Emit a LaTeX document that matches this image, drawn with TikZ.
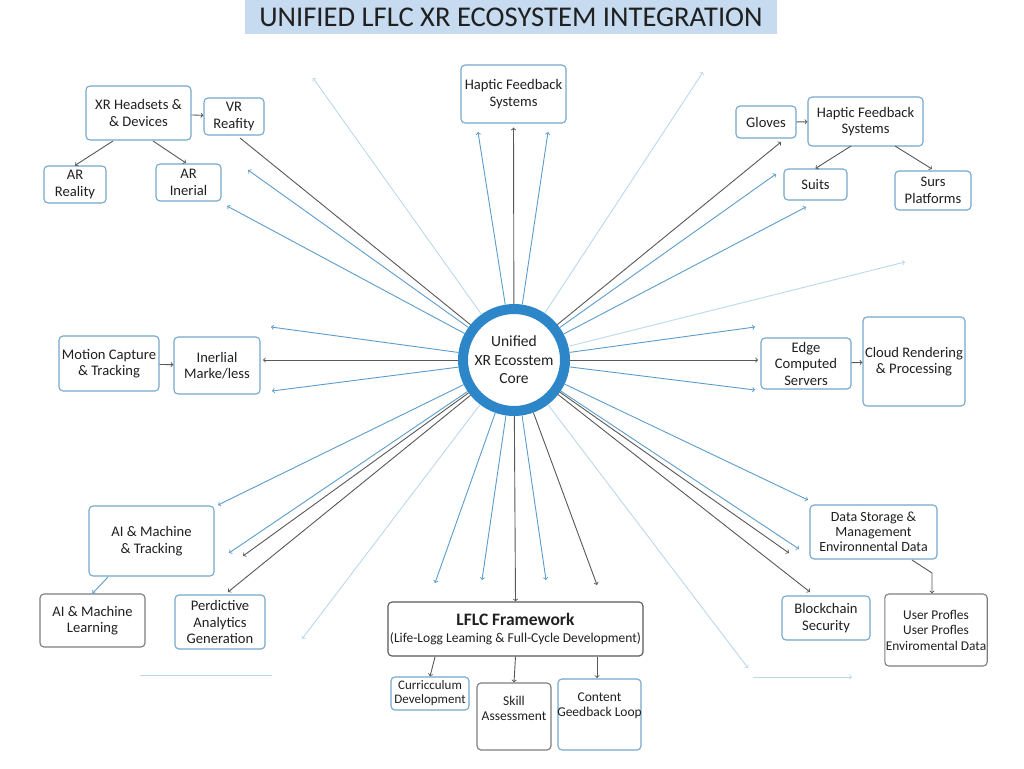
\documentclass[tikz,border=0pt]{standalone}
\usepackage{fontspec}
\setmainfont{Carlito}
\usepackage{tikz}
\definecolor{boxblue}{RGB}{116,168,204}
\definecolor{boxgray}{RGB}{125,125,125}
\definecolor{coreblue}{RGB}{44,134,200}
\definecolor{rayblue}{RGB}{92,156,204}
\definecolor{raygray}{RGB}{88,88,88}
\definecolor{rayfaint}{RGB}{188,216,236}
\definecolor{titlefill}{RGB}{198,219,239}
\definecolor{ink}{RGB}{32,32,32}

\begin{document}
\begin{tikzpicture}[
      x=1pt, y=-1pt,
      box/.style={draw=#1, rounded corners=4pt, fill=white, align=center, line width=1.1pt,
                  text=ink, inner sep=2pt, font=\fontsize{14.6}{16.5}\selectfont},
      box/.default=boxblue,
      ray/.style={->, line width=0.9pt, draw=#1},
      link/.style={->, line width=0.9pt, draw=raygray}
    ]
      \useasboundingbox[fill=white] (0,0) rectangle (1024,768);

      % title
      \node[fill=titlefill, minimum width=532pt, minimum height=34pt, text=ink,
            font=\fontsize{28.6}{30}\selectfont] (title) at (511,17) {UNIFIED LFLC XR ECOSYSTEM INTEGRATION};

      % core
      \node[circle, draw=coreblue, line width=10pt, fill=white, minimum size=102pt, align=center,
            text=ink, font=\fontsize{15.5}{18.5}\selectfont] (core) at (514,360) {Unified\\XR Ecosstem\\Core};

      % top left
      \node[box, minimum width=105pt, minimum height=54pt] (xr) at (138.5,113) {XR Headsets \&\\\& Devices};
      \node[box, minimum width=60pt, minimum height=37pt] (vr) at (234,116.5) {VR\\Reafity};
      \node[box, minimum width=62pt, minimum height=37pt] (arr) at (75,184.5) {AR\\Reality};
      \node[box, minimum width=65pt, minimum height=37pt] (ari) at (188.5,182.5) {AR\\Inerial};

      % top centre and right
      \node[box, minimum width=105pt, minimum height=58pt] (hap) at (513.5,94) {Haptic Feedback\\Systems};
      \node[box, minimum width=60pt, minimum height=32pt] (glo) at (766,122) {Gloves};
      \node[box, minimum width=115pt, minimum height=49pt] (hapr) at (865.5,121.5) {Haptic Feedback\\Systems};
      \node[box, minimum width=63pt, minimum height=31pt] (sui) at (815.5,184.5) {Suits};
      \node[box, minimum width=76pt, minimum height=39pt] (sur) at (933,190.5) {Surs\\Platforms};

      % middle
      \node[box, minimum width=100pt, minimum height=55pt] (mot) at (109,363.5) {Motion Capture\\\& Tracking};
      \node[box, minimum width=86pt, minimum height=57pt] (ine) at (217,365.5) {Inerlial\\Marke/less};
      \node[box, minimum width=90pt, minimum height=51pt] (edg) at (806,363.5) {Edge\\Computed\\Servers};
      \node[box, minimum width=102pt, minimum height=89pt] (clo) at (914,361.5) {Cloud Rendering\\\& Processing};

      % bottom left
      \node[box, minimum width=125pt, minimum height=70pt] (ait) at (151.5,541) {AI \& Machine\\\& Tracking};
      \node[box=boxgray, minimum width=105pt, minimum height=53pt] (ail) at (92.5,620.5) {AI \& Machine\\Learning};
      \node[box, minimum width=90pt, minimum height=54pt] (per) at (220,622) {Perdictive\\Analytics\\Generation};

      % bottom centre
      \node[box=raygray, minimum width=255pt, minimum height=54pt] (lflc) at (515.5,629)
        {{\fontsize{17.5}{20}\selectfont\bfseries LFLC Framework}\\[1pt]{\fontsize{13.5}{15}\selectfont(Life-Logg Leaming \& Full-Cycle Development)}};
      \node[box, minimum width=78pt, minimum height=33pt, inner sep=1pt, font=\fontsize{13}{14}\selectfont] (cur) at (430,693.5) {Curricculum\\Development};
      \node[box=boxgray, minimum width=74pt, minimum height=67pt,
            label={[text=ink, align=center, anchor=north, font=\fontsize{13.5}{15}\selectfont, yshift=-10pt]north:Skill\\Assessment}] (ski) at (514,716.5) {};
      \node[box, minimum width=83pt, minimum height=71pt,
            label={[text=ink, align=center, anchor=north, font=\fontsize{13.5}{15}\selectfont, yshift=-11pt]north:Content\\Geedback Loop}] (con) at (599.5,714.5) {};

      % bottom right
      \node[box, minimum width=127pt, minimum height=54pt, font=\fontsize{14}{15}\selectfont] (dat) at (873.5,532) {Data Storage \&\\Management\\Environnental Data};
      \node[box, minimum width=88pt, minimum height=44pt] (blo) at (826,618) {Blockchain\\Security};
      \node[box=boxgray, minimum width=100pt, minimum height=72pt, inner sep=1pt, font=\fontsize{13.4}{15.5}\selectfont] (usr) at (936,630) {User Profles\\User Profles\\Enviromental Data};

      % rays out of the core
      \foreach \x/\y/\c [count=\i] in {
          478/132/rayblue, 548/132/rayblue, 313/78/rayfaint, 703/72/rayfaint,
          248/170/rayblue, 227/206/rayblue,
          781/142/raygray, 776/174/rayblue, 806/207/rayblue, 905/262/rayfaint,
          271/327/rayblue, 263/360/raygray, 272/391/rayblue,
          755/327/rayblue, 758/360/raygray, 755/390/rayblue,
          218/505/rayblue, 229/553/rayblue, 243/556/raygray, 228/592/raygray, 302/639/rayfaint,
          435/583/rayblue, 482/580/rayblue, 546/580/rayblue, 597/585/raygray,
          808/500/rayblue, 799/549/rayblue, 789/553/raygray, 810/592/raygray, 748/668/rayfaint} {
        \coordinate (ray\i) at (\x,\y);
        \draw[ray=\c] (core) -- (ray\i);
      }
      \draw[ray=raygray, shorten >=4pt] (core) -- (hap.south);
      \draw[ray=raygray] (core) -- (lflc.north);
      \coordinate (vrhit) at (240,138);
      \draw[line width=0.9pt, draw=raygray] (core) -- (vrhit);

      % faint bottom lines
      \coordinate (fl1) at (140,675);
      \coordinate (fl2) at (272,675);
      \coordinate (fr1) at (753,677);
      \coordinate (fr2) at (852,677);
      \draw[line width=0.9pt, draw=rayfaint] (fl1) -- (fl2);
      \draw[ray=rayfaint] (fr1) -- (fr2);

      % small links between boxes
      \draw[link] (xr) -- (vr);
      \draw[link] (113,141) -- (arr.north);
      \draw[link] (153,141) -- (186,163);
      \draw[link] (glo) -- (hapr);
      \draw[link] (851,146) -- (sui.north);
      \draw[link] (895,146) -- (932,169);
      \draw[link] (mot) -- (ine);
      \draw[link] (edg) -- (clo);
      \draw[ray=rayblue] (108,577) -- (ail.north);
      \draw[link] (435,657) -- (cur.north);
      \draw[link] (lflc.south) -- (ski.north);
      \draw[link] (597,657) -- (597,678);
      \draw[link] (912,560) -- (932,573) -- (usr.north -| 932,573);
    \end{tikzpicture}
\end{document}
